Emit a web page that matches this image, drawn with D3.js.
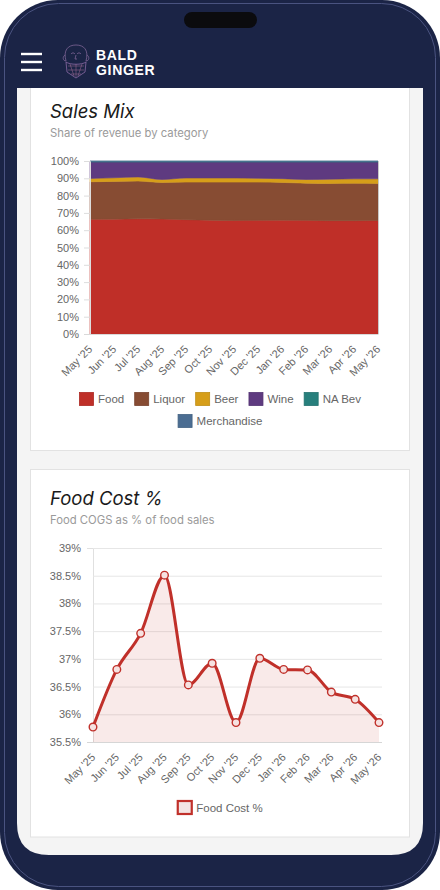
<!DOCTYPE html>
<html>
<head>
<meta charset="utf-8">
<script src="https://cdn.jsdelivr.net/npm/d3@7"></script>
<style>
  body { margin: 0; background: #fff; }
  svg { display: block; }
</style>
</head>
<body>
<div id="frame"></div>
<script>
// months on both charts
let months = ["May '25", "Jun '25", "Jul '25", "Aug '25", "Sep '25", "Oct '25", "Nov '25",
  "Dec '25", "Jan '26", "Feb '26", "Mar '26", "Apr '26", "May '26"];

// sales mix, % of revenue
let categories = ["Food", "Liquor", "Beer", "Wine", "NA Bev", "Merchandise"];
let catColors = ["#bf2f28", "#874c33", "#d69e1a", "#5e3a80", "#277f7c", "#4b6d92"];
let food = [66.3, 66.4, 66.6, 66.5, 66.1, 65.8, 65.6, 65.7, 65.8, 65.7, 65.5, 65.5, 65.6];
let liquor = [21.7, 21.8, 21.8, 21.1, 21.7, 22.0, 22.2, 22.1, 21.8, 21.5, 21.5, 21.6, 21.4];
let beer = [1.9, 2.1, 2.4, 1.7, 2.4, 2.4, 2.4, 2.2, 2.2, 2.1, 2.5, 2.6, 2.7];
let wine = [9.5, 9.1, 8.6, 10.1, 9.2, 9.2, 9.2, 9.4, 9.6, 10.1, 9.9, 9.7, 9.7];
let naBev = [0.4, 0.4, 0.4, 0.4, 0.4, 0.4, 0.4, 0.4, 0.4, 0.4, 0.4, 0.4, 0.4];
let merch = [0.2, 0.2, 0.2, 0.2, 0.2, 0.2, 0.2, 0.2, 0.2, 0.2, 0.2, 0.2, 0.2];
let mixTicks = [0, 10, 20, 30, 40, 50, 60, 70, 80, 90, 100];

// food cost %
let foodCost = [35.77, 36.81, 37.46, 38.51, 36.53, 36.92, 35.85, 37.01, 36.81, 36.80, 36.40, 36.27, 35.85];
let costTicks = [35.5, 36, 36.5, 37, 37.5, 38, 38.5, 39];

let W = 440, H = 890;
let navy = "#1b2446";
let tickFont = "'Liberation Sans', Arial, sans-serif";
let titleFont = "Inter, 'Noto Sans', sans-serif";

let svg = d3.select('#frame').append('svg')
  .attr('width', W).attr('height', H);

//phone body
svg.append('rect')
  .attr('width', W).attr('height', H).attr('rx', 58)
  .attr('fill', navy);
svg.append('rect')
  .attr('x', 4.5).attr('y', 3.5).attr('width', W - 9).attr('height', H - 7).attr('rx', 54)
  .attr('fill', 'none').attr('stroke', '#4a5380').attr('stroke-width', 1);

//notch
svg.append('rect')
  .attr('x', 184).attr('y', 12).attr('width', 73).attr('height', 16).attr('rx', 8)
  .attr('fill', '#0b0b0e');

//hamburger
[54, 62, 70].forEach(yy => {
  svg.append('rect').attr('x', 21).attr('y', yy - 1.2).attr('width', 21).attr('height', 2.4)
    .attr('fill', '#fff');
});

//logo, thin outline drawing
let logo = svg.append('g').attr('fill', 'none').attr('stroke', '#7d6596').attr('stroke-width', 0.8);
logo.append('path').attr('d', 'M66,61 C63,50 68,45 76,45 C84,45 89,50 86,61');
logo.append('path').attr('d', 'M65,55 C62,57 63,61 66,61 M87,55 C90,57 89,61 86,61');
logo.append('path').attr('d', 'M71,54 C72,52.5 74,52.5 75,54 M77,54 C78,52.5 80,52.5 81,54 M76,55 L75,59 L77,59');
logo.append('path').attr('d', 'M66,62 L67,72 L76,78 L85,72 L86,62 C82,65 70,65 66,62 Z')
  .attr('stroke', '#8a6aa5');
logo.append('path').attr('d', 'M68,66 L84,66 M68,70 L84,70 M71,74 L81,74 M70,64 L74,76 M76,64 L76,77 M82,64 L78,76')
  .attr('stroke', '#a26d96').attr('stroke-width', 0.5);
//brand name, two lines
[['BALD', 59.8], ['GINGER', 75.4]].forEach(([t, yy]) => {
  svg.append('text').attr('x', 96).attr('y', yy).text(t)
    .attr('fill', '#fff').attr('font-family', tickFont).attr('font-weight', 700)
    .attr('font-size', 14).attr('letter-spacing', 0.7);
});

//screen
let sx = 17, sy = 88, sw = 406, sh = 767, r = 32;
let screenPath = `M${sx},${sy} H${sx + sw} V${sy + sh - r} Q${sx + sw},${sy + sh} ${sx + sw - r},${sy + sh} H${sx + r} Q${sx},${sy + sh} ${sx},${sy + sh - r} Z`;
svg.append('clipPath').attr('id', 'screen').append('path').attr('d', screenPath);
svg.append('path').attr('d', screenPath).attr('fill', '#f4f4f4');
let screen = svg.append('g').attr('clip-path', 'url(#screen)');

//cards
screen.append('rect').attr('x', 30.5).attr('y', 60).attr('width', 379).attr('height', 390.5)
  .attr('fill', '#fff').attr('stroke', '#e2e2e2');
screen.append('rect').attr('x', 30.5).attr('y', 469.5).attr('width', 379).attr('height', 367.5)
  .attr('fill', '#fff').attr('stroke', '#e2e2e2');

function titles(g, title, sub, y) {
  g.append('text').attr('x', 50).attr('y', y).text(title)
    .attr('font-family', titleFont).attr('font-style', 'italic')
    .attr('font-size', 18.5).attr('fill', '#1a1a1a');
  g.append('text').attr('x', 50).attr('y', y + 19).text(sub)
    .attr('font-family', titleFont).attr('font-size', 11.3).attr('fill', '#9a9a9a');
}

function xLabels(g, x, y0) {
  g.selectAll(null).data(months).enter().append('text')
    .attr('transform', d => `translate(${x(d) + 3},${y0 + 16}) rotate(-45)`)
    .attr('text-anchor', 'end')
    .attr('font-family', tickFont).attr('font-size', 11).attr('fill', '#666')
    .text(d => d);
}

function legend(g, items, y, rowW) {
  // lay items out in centered rows like chart.js does
  let rows = [[]], cur = 0;
  items.forEach(it => {
    let t = g.append('text').attr('font-family', tickFont).attr('font-size', 11.5).text(it.label);
    let w = 15 + 4 + t.node().getComputedTextLength();
    t.remove();
    if (cur + w > rowW && rows[rows.length - 1].length) { rows.push([]); cur = 0; }
    rows[rows.length - 1].push({ ...it, w: w });
    cur += w + 10;
  });
  rows.forEach((row, i) => {
    let total = d3.sum(row, d => d.w) + 10 * (row.length - 1);
    let xx = 220 - total / 2;
    let yy = y + i * 22;
    row.forEach(it => {
      g.append('rect').attr('x', xx + 0.5).attr('y', yy - 6.5).attr('width', 14).attr('height', 13)
        .attr('fill', it.fill).attr('stroke', it.stroke).attr('stroke-width', it.sw);
      g.append('text').attr('x', xx + 19).attr('y', yy + 4).text(it.label)
        .attr('font-family', tickFont).attr('font-size', 11.5).attr('fill', '#666');
      xx += it.w + 10;
    });
  });
}

// ---------- Sales Mix ----------
titles(screen, 'Sales Mix', 'Share of revenue by category', 117.5);

let mixRows = months.map((m, i) => ({
  month: m, Food: food[i], Liquor: liquor[i], Beer: beer[i], Wine: wine[i],
  'NA Bev': naBev[i], Merchandise: merch[i]
}));
let stack = d3.stack().keys(categories).offset(d3.stackOffsetExpand);
let layers = stack(mixRows);

let x1 = d3.scalePoint().domain(months).range([90, 378]);
let y1 = d3.scaleLinear().domain([0, 1]).range([334, 161]);

let area1 = d3.area()
  .x(d => x1(d.data.month))
  .y0(d => y1(d[0]))
  .y1(d => y1(d[1]))
  .curve(d3.curveMonotoneX);

screen.append('g').selectAll('path').data(layers).enter().append('path')
  .attr('d', area1)
  .attr('fill', (d, i) => catColors[i])
  .attr('stroke', (d, i) => catColors[i]).attr('stroke-width', 0.6);

let yAx1 = screen.append('g').attr('transform', 'translate(90,0)')
  .call(d3.axisLeft(y1).tickValues(mixTicks.map(v => v / 100)).tickFormat(d => Math.round(d * 100) + '%').tickSize(6).tickPadding(5));
yAx1.select('.domain').attr('stroke', '#ddd');
yAx1.selectAll('.tick line').attr('stroke', '#ddd');
yAx1.selectAll('text').attr('font-family', tickFont).attr('font-size', 11).attr('fill', '#666');
screen.append('line').attr('x1', 378.5).attr('x2', 378.5).attr('y1', 161).attr('y2', 334).attr('stroke', '#c9c9c9');
screen.append('line').attr('x1', 84).attr('x2', 378.5).attr('y1', 334.5).attr('y2', 334.5).attr('stroke', '#d9d9d9');
xLabels(screen, x1, 334);

legend(screen, categories.map((c, i) => ({ label: c, fill: catColors[i], stroke: d3.color(catColors[i]).darker(0.3), sw: 0.8 })), 399, 300);

// ---------- Food Cost % ----------
titles(screen, 'Food Cost %', 'Food COGS as % of food sales', 504.5);

let x2 = d3.scalePoint().domain(months).range([93, 379]);
let y2 = d3.scaleLinear().domain([35.5, 39]).range([742, 548]);

let grid = screen.append('g').attr('transform', 'translate(93,0)')
  .call(d3.axisLeft(y2).tickValues(costTicks).tickFormat(d => d + '%').tickSize(6).tickPadding(6));
grid.select('.domain').attr('stroke', '#e0e0e0');
grid.selectAll('.tick line').attr('stroke', '#e6e6e6').attr('x2', 289);
grid.selectAll('text').attr('font-family', tickFont).attr('font-size', 11).attr('fill', '#666');
screen.append('line').attr('x1', 87).attr('x2', 382).attr('y1', 742.5).attr('y2', 742.5).attr('stroke', '#d6d6d6');

let red = '#c0302a';
screen.append('path').datum(foodCost)
  .attr('d', d3.area().x((d, i) => x2(months[i])).y0(y2(35.5)).y1(d => y2(d)).curve(d3.curveMonotoneX))
  .attr('fill', 'rgba(192,48,42,0.1)');
screen.append('path').datum(foodCost)
  .attr('d', d3.line().x((d, i) => x2(months[i])).y(d => y2(d)).curve(d3.curveMonotoneX))
  .attr('fill', 'none').attr('stroke', red).attr('stroke-width', 3);
screen.append('g').selectAll('circle').data(foodCost).enter().append('circle')
  .attr('cx', (d, i) => x2(months[i])).attr('cy', d => y2(d)).attr('r', 3.8)
  .attr('fill', '#f6e2e1').attr('stroke', red).attr('stroke-width', 1.4);
xLabels(screen, x2, 742);

legend(screen, [{ label: 'Food Cost %', fill: '#f3e4e3', stroke: red, sw: 2.2 }], 807.5, 300);
</script>
</body>
</html>
